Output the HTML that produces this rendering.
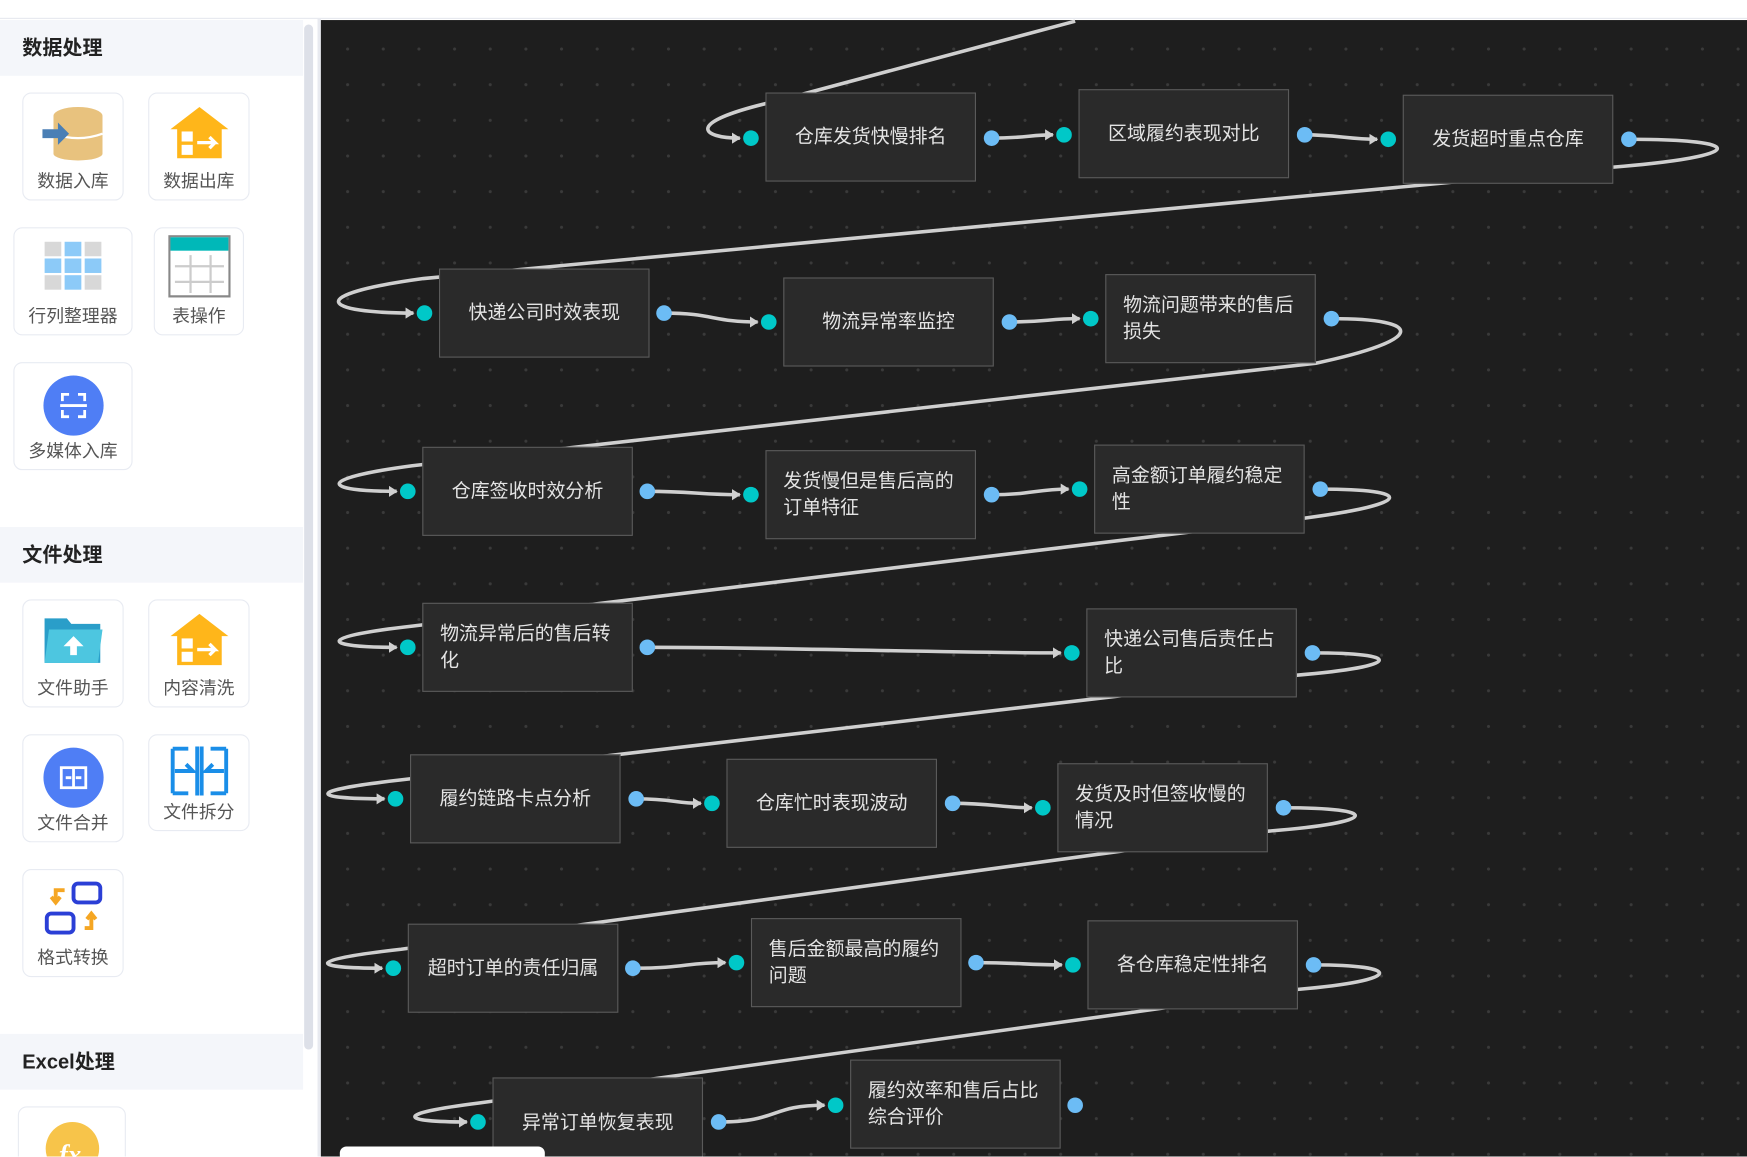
<!DOCTYPE html>
<html><head><meta charset="utf-8"><style>
html,body{margin:0;padding:0;width:1747px;height:1157px;overflow:hidden;background:#fff;font-family:"Liberation Sans","Noto Sans CJK SC",sans-serif;}
#w{position:absolute;left:0;top:0;width:1568px;height:1038px;overflow:hidden;transform:scale(1.11416);transform-origin:0 0;}
.band{position:absolute;left:0;width:272px;height:50px;background:#f4f6fa;font-weight:bold;font-size:18px;color:#222;line-height:50px;padding-left:20px;box-sizing:border-box;}
.card{position:absolute;border:1px solid #e8ebf2;border-radius:8px;background:#fff;box-sizing:border-box;text-align:center;font-size:16px;color:#555;}
.card .lb{position:absolute;left:0;right:0;bottom:6px;}
.ic{position:absolute;left:50%;transform:translateX(-50%);top:10px;}
#cv{position:absolute;left:288px;top:18px;width:1280px;height:1020px;background-color:#1e1e1e;background-image:radial-gradient(circle,#3a3a3a 1.2px,transparent 1.6px);background-size:32px 32px;background-position:8px 10px;}
.n{position:absolute;width:189px;height:80px;background:#2a2a2a;border:1.5px solid #5a5a5a;box-sizing:border-box;color:#e4e4e4;font-size:17px;display:flex;align-items:center;justify-content:center;text-align:left;line-height:24px;}
.n.l{justify-content:flex-start;padding-left:15px;}
</style></head><body><div id="w">
<div style="position:absolute;left:0;top:16px;width:1568px;height:1px;background:#e6e8ee"></div>
<div style="position:absolute;left:0;top:17px;width:288px;height:1021px;background:#fff"></div>
<div style="position:absolute;left:273px;top:22px;width:8px;height:920px;background:#dde0e8;border-radius:4px"></div>
<div style="position:absolute;left:285px;top:17px;width:3px;height:1021px;background:#e8eaf0"></div>

<div class="band" style="top:18px">数据处理</div>
<div class="band" style="top:473px">文件处理</div>
<div class="band" style="top:928px">Excel处理</div>

<div class="card" style="left:20px;top:83px;width:91px;height:97px"><svg class="ic" width="56" height="52" viewBox="0 0 56 52"><ellipse cx="32" cy="10" rx="22" ry="8" fill="#e8c27e"/><rect x="10" y="10" width="44" height="34" fill="#e8c27e"/><ellipse cx="32" cy="44" rx="22" ry="6" fill="#e8c27e"/><path d="M10 26 Q32 34 54 26" stroke="#fff" stroke-width="2" fill="none"/><path d="M0 22h14v-6l10 10-10 10v-6H0z" fill="#4a7fb5"/></svg><div class="lb">数据入库</div></div>
<div class="card" style="left:133px;top:83px;width:91px;height:97px"><svg class="ic" width="56" height="52" viewBox="0 0 56 52"><path d="M28 2L54 22H48V48H8V22H2z" fill="#ffb61a"/><rect x="12" y="24" width="10" height="9" fill="#fff"/><rect x="12" y="36" width="10" height="9" fill="#fff"/><path d="M26 34h16l-5-5M42 34l-5 5" stroke="#fff" stroke-width="3" fill="none"/></svg><div class="lb">数据出库</div></div>
<div class="card" style="left:12px;top:204px;width:107px;height:97px"><svg class="ic" width="52" height="46" viewBox="0 0 52 46"><g fill="#d8d8d8"><rect x="0" y="2" width="15" height="13"/><rect x="36" y="2" width="15" height="13"/><rect x="0" y="32" width="15" height="13"/><rect x="36" y="32" width="15" height="13"/></g><g fill="#8ccaf8"><rect x="18" y="2" width="15" height="13"/><rect x="0" y="17" width="15" height="13"/><rect x="18" y="17" width="15" height="13"/><rect x="36" y="17" width="15" height="13"/><rect x="18" y="32" width="15" height="13"/></g></svg><div class="lb">行列整理器</div></div>
<div class="card" style="left:138px;top:204px;width:81px;height:97px"><svg class="ic" style="top:6px" width="56" height="56" viewBox="0 0 56 56"><rect x="1" y="1" width="54" height="54" fill="#fff" stroke="#888" stroke-width="2"/><rect x="2" y="2" width="52" height="12" fill="#00b8b8"/><path d="M6 28h44M6 42h44M20 18v34M38 18v34" stroke="#ccc" stroke-width="2"/></svg><div class="lb">表操作</div></div>
<div class="card" style="left:12px;top:325px;width:107px;height:97px"><svg class="ic" width="56" height="56" viewBox="0 0 56 56"><circle cx="28" cy="28" r="27" fill="#4f7ef5"/><path d="M18 24v-6h6M32 18h6v6M38 32v6h-6M24 38h-6v-6M16 28h24" stroke="#fff" stroke-width="2.5" fill="none"/></svg><div class="lb">多媒体入库</div></div>

<div class="card" style="left:20px;top:538px;width:91px;height:97px"><svg class="ic" width="56" height="50" viewBox="0 0 56 50"><path d="M2 6h20l4 5h26v35H2z" fill="#2a9ec9"/><path d="M6 16h48l-4 30H2z" fill="#4dc6e0"/><path d="M28 22l-9 9h6v8h6v-8h6z" fill="#fff"/></svg><div class="lb">文件助手</div></div>
<div class="card" style="left:133px;top:538px;width:91px;height:97px"><svg class="ic" width="56" height="52" viewBox="0 0 56 52"><path d="M28 2L54 22H48V48H8V22H2z" fill="#ffb61a"/><rect x="12" y="24" width="10" height="9" fill="#fff"/><rect x="12" y="36" width="10" height="9" fill="#fff"/><path d="M26 34h16l-5-5M42 34l-5 5" stroke="#fff" stroke-width="3" fill="none"/></svg><div class="lb">内容清洗</div></div>
<div class="card" style="left:20px;top:659px;width:91px;height:97px"><svg class="ic" width="56" height="56" viewBox="0 0 56 56"><circle cx="28" cy="28" r="27" fill="#4f7ef5"/><rect x="17" y="19" width="22" height="18" stroke="#fff" stroke-width="2.5" fill="none"/><path d="M28 19v18M21 28h5M35 28h-5" stroke="#fff" stroke-width="2.5"/></svg><div class="lb">文件合并</div></div>
<div class="card" style="left:133px;top:659px;width:91px;height:87px"><svg class="ic" style="top:8px" width="56" height="48" viewBox="0 0 56 48"><path d="M26 2v44M30 2v44M4 4h14M4 44h14M4 4v40M52 4h-14M52 44h-14M52 4v40M6 24h16l-6-6M6 24l6 0M50 24h-16l6-6" stroke="#1a8ee8" stroke-width="3.5" fill="none"/></svg><div class="lb">文件拆分</div></div>
<div class="card" style="left:20px;top:780px;width:91px;height:97px"><svg class="ic" width="56" height="50" viewBox="0 0 56 50"><rect x="28" y="2" width="24" height="17" rx="4" stroke="#2b3fd6" stroke-width="3.5" fill="none"/><rect x="4" y="29" width="24" height="17" rx="4" stroke="#2b3fd6" stroke-width="3.5" fill="none"/><path d="M20 8h-8v10M8 14l4 5 4-5M38 42h6V30M40 34l4-5 4 5" stroke="#f5a623" stroke-width="3.5" fill="none"/></svg><div class="lb">格式转换</div></div>
<div class="card" style="left:16px;top:993px;width:97px;height:60px"><svg class="ic" style="top:12px" width="50" height="40"><circle cx="25" cy="25" r="24" fill="#f7c44a"/><text x="13" y="38" font-size="24" font-style="italic" font-weight="bold" fill="#fff" font-family="Liberation Serif,serif">fx</text></svg></div>

<div id="cv"></div>
<svg style="position:absolute;left:0;top:0" width="1568" height="1038">
<defs><marker id="a" markerUnits="userSpaceOnUse" markerWidth="8" markerHeight="10" refX="7" refY="5" orient="auto"><path d="M0 0L8 5L0 10z" fill="#d0d0d0"/></marker></defs>
<g stroke="#cfcfcf" stroke-width="3.2" fill="none" marker-end="url(#a)">
<path d="M965 19 L700 90 C610 110,630 124,664 124"/>
<path d="M890 124 C920 124,925 121,945 121"/>
<path d="M1171 121 C1200 121,1210 125,1236 125"/>
<path d="M1462 125 C1570 125,1570 140,1448 150 L380 250 C270 265,290 281,371 281"/>
<path d="M596 281 C640 281,640 289,680 289"/>
<path d="M906 289 C940 289,940 286,969 286"/>
<path d="M1195 286 C1280 286,1280 305,1181 326 L370 418 C280 430,290 441,356 441"/>
<path d="M581 441 C620 441,630 444,664 444"/>
<path d="M890 444 C925 444,930 439,959 439"/>
<path d="M1185 439 C1270 439,1270 452,1171 465 L370 562 C280 572,290 581,356 581"/>
<path d="M581 581 C700 581,850 586,952 586"/>
<path d="M1178 586 C1260 586,1260 598,1164 606 L360 700 C270 710,280 717,345 717"/>
<path d="M571 717 C605 717,605 721,629 721"/>
<path d="M855 721 C890 721,900 725,926 725"/>
<path d="M1152 725 C1240 725,1240 738,1138 746 L360 852 C270 862,280 869,343 869"/>
<path d="M568 869 C615 869,615 864,651 864"/>
<path d="M876 864 C915 864,920 866,953 866"/>
<path d="M1179 866 C1260 866,1260 880,1165 888 L430 990 C350 1000,360 1007,419 1007"/>
<path d="M645 1007 C700 1007,690 992,740 992"/>
</g>
</svg>
<div class="n" style="left:687px;top:83px">仓库发货快慢排名</div>
<div class="n" style="left:968px;top:80px">区域履约表现对比</div>
<div class="n" style="left:1259px;top:85px">发货超时重点仓库</div>
<div class="n" style="left:394px;top:241px">快递公司时效表现</div>
<div class="n" style="left:703px;top:249px">物流异常率监控</div>
<div class="n l" style="left:992px;top:246px">物流问题带来的售后<br>损失</div>
<div class="n" style="left:379px;top:401px">仓库签收时效分析</div>
<div class="n l" style="left:687px;top:404px">发货慢但是售后高的<br>订单特征</div>
<div class="n l" style="left:982px;top:399px">高金额订单履约稳定<br>性</div>
<div class="n l" style="left:379px;top:541px">物流异常后的售后转<br>化</div>
<div class="n l" style="left:975px;top:546px">快递公司售后责任占<br>比</div>
<div class="n" style="left:368px;top:677px">履约链路卡点分析</div>
<div class="n" style="left:652px;top:681px">仓库忙时表现波动</div>
<div class="n l" style="left:949px;top:685px">发货及时但签收慢的<br>情况</div>
<div class="n" style="left:366px;top:829px">超时订单的责任归属</div>
<div class="n l" style="left:674px;top:824px">售后金额最高的履约<br>问题</div>
<div class="n" style="left:976px;top:826px">各仓库稳定性排名</div>
<div class="n" style="left:442px;top:967px;height:90px;align-items:flex-start;padding-top:28px">异常订单恢复表现</div>
<div class="n l" style="left:763px;top:951px">履约效率和售后占比<br>综合评价</div>
<svg style="position:absolute;left:0;top:0" width="1568" height="1038">
<g fill="#00c8c8">
<circle cx="674" cy="124" r="7"/><circle cx="955" cy="121" r="7"/><circle cx="1246" cy="125" r="7"/>
<circle cx="381" cy="281" r="7"/><circle cx="690" cy="289" r="7"/><circle cx="979" cy="286" r="7"/>
<circle cx="366" cy="441" r="7"/><circle cx="674" cy="444" r="7"/><circle cx="969" cy="439" r="7"/>
<circle cx="366" cy="581" r="7"/><circle cx="962" cy="586" r="7"/>
<circle cx="355" cy="717" r="7"/><circle cx="639" cy="721" r="7"/><circle cx="936" cy="725" r="7"/>
<circle cx="353" cy="869" r="7"/><circle cx="661" cy="864" r="7"/><circle cx="963" cy="866" r="7"/>
<circle cx="429" cy="1007" r="7"/><circle cx="750" cy="992" r="7"/>
</g>
<g fill="#6cbcf5">
<circle cx="890" cy="124" r="7"/><circle cx="1171" cy="121" r="7"/><circle cx="1462" cy="125" r="7"/>
<circle cx="596" cy="281" r="7"/><circle cx="906" cy="289" r="7"/><circle cx="1195" cy="286" r="7"/>
<circle cx="581" cy="441" r="7"/><circle cx="890" cy="444" r="7"/><circle cx="1185" cy="439" r="7"/>
<circle cx="581" cy="581" r="7"/><circle cx="1178" cy="586" r="7"/>
<circle cx="571" cy="717" r="7"/><circle cx="855" cy="721" r="7"/><circle cx="1152" cy="725" r="7"/>
<circle cx="568" cy="869" r="7"/><circle cx="876" cy="864" r="7"/><circle cx="1179" cy="866" r="7"/>
<circle cx="645" cy="1007" r="7"/><circle cx="965" cy="992" r="7"/>
</g>
</svg>
<div style="position:absolute;left:305px;top:1029px;width:184px;height:14px;background:#fff;border-radius:6px"></div>
</div></body></html>
